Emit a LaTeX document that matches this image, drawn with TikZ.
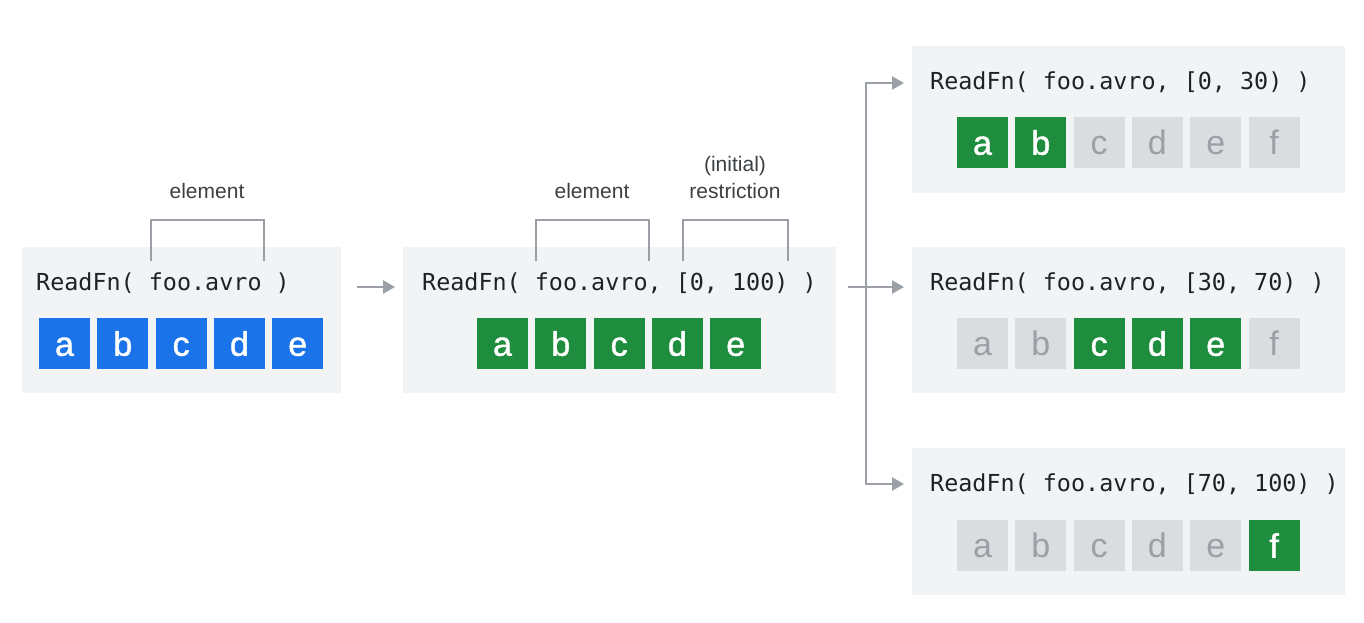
\documentclass[tikz,border=0pt]{standalone}
\usepackage{fontspec}
\setmainfont{Liberation Sans}
\setmonofont{DejaVu Sans Mono}
\newfontfamily\sqboldfont[FakeBold=1.2]{Liberation Sans}
\usetikzlibrary{arrows.meta}
\definecolor{boxbg}{HTML}{F1F3F4}
\definecolor{gblue}{HTML}{1A73E8}
\definecolor{ggreen}{HTML}{1E8E3E}
\definecolor{glight}{HTML}{DADCE0}
\definecolor{gmid}{HTML}{9AA0A6}
\definecolor{gtext}{HTML}{202124}
\definecolor{glabel}{HTML}{3C4043}
\tikzset{
  panel/.style={fill=boxbg, draw=none, inner sep=0pt, anchor=north west},
  sq/.style={minimum width=51pt, minimum height=51pt, inner sep=0pt,
    font=\fontsize{34}{40}\selectfont, text height=24.5pt, text depth=0pt},
  sqblue/.style={sq, fill=gblue, text=white, font=\sqboldfont\fontsize{34}{40}\selectfont},
  sqgreen/.style={sq, fill=ggreen, text=white, font=\sqboldfont\fontsize{34}{40}\selectfont},
  sqgray/.style={sq, fill=glight, text=gmid},
  code/.style={font=\ttfamily\fontsize{23.4}{28}\selectfont, text=gtext, inner sep=0pt, anchor=base west},
  lbl/.style={font=\fontsize{21}{27}\selectfont, text=glabel, inner sep=0pt, align=center},
  brk/.style={draw=gmid, line width=2pt},
  arr/.style={draw=gmid, line width=2.4pt, -{Triangle[length=12pt,width=13pt]}},
}
\begin{document}
\begin{tikzpicture}[x=1pt,y=-1pt]
\useasboundingbox (0,0) rectangle (1364,622);
% panels
\node[panel, minimum width=319pt, minimum height=146pt] (p1) at (22,247) {};
\node[panel, minimum width=433pt, minimum height=146pt] (p2) at (403,247) {};
\node[panel, minimum width=433pt, minimum height=147pt] (p3) at (912,46) {};
\node[panel, minimum width=433pt, minimum height=146pt] (p4) at (912,247) {};
\node[panel, minimum width=433pt, minimum height=147pt] (p5) at (912,448) {};
% code texts
\node[code] (t1) at (36,290) {ReadFn( foo.avro )};
\node[code] (t2) at (422,290) {ReadFn( foo.avro, [0, 100) )};
\node[code] (t3) at (930,89) {ReadFn( foo.avro, [0, 30) )};
\node[code] (t4) at (930,290) {ReadFn( foo.avro, [30, 70) )};
\node[code] (t5) at (930,491) {ReadFn( foo.avro, [70, 100) )};
% left squares
\foreach \l [count=\i from 0] in {a,b,c,d,e}
  \node[sqblue] (s1\l) at (64.5+58.3*\i,343.5) {\l};
% middle squares
\foreach \l [count=\i from 0] in {a,b,c,d,e}
  \node[sqgreen] (s2\l) at (502.5+58.3*\i,343.5) {\l};
% right top
\foreach \l/\s [count=\i from 0] in {a/sqgreen,b/sqgreen,c/sqgray,d/sqgray,e/sqgray,f/sqgray}
  \node[\s] (s3\l) at (982.5+58.3*\i,142.5) {\l};
% right middle
\foreach \l/\s [count=\i from 0] in {a/sqgray,b/sqgray,c/sqgreen,d/sqgreen,e/sqgreen,f/sqgray}
  \node[\s] (s4\l) at (982.5+58.3*\i,343.5) {\l};
% right bottom
\foreach \l/\s [count=\i from 0] in {a/sqgray,b/sqgray,c/sqgray,d/sqgray,e/sqgray,f/sqgreen}
  \node[\s] (s5\l) at (982.5+58.3*\i,545.5) {\l};
% brackets
\draw[brk] (151,261) -- (151,220) -- (264,220) -- (264,261);
\draw[brk] (536,261) -- (536,220) -- (649,220) -- (649,261);
\draw[brk] (683,261) -- (683,220) -- (788,220) -- (788,261);
% labels
\node[lbl] (l1) at (207,191) {element};
\node[lbl] (l2) at (592,191) {element};
\node[lbl] (l3) at (735,177) {(initial)\\restriction};
% arrows
\coordinate (a1s) at (357,287);
\coordinate (a1e) at (395,287);
\coordinate (a2s) at (848,287);
\coordinate (jm) at (866,287);
\coordinate (e1) at (904,83);
\coordinate (e2) at (904,287);
\coordinate (e3) at (904,484);
\draw[arr] (a1s) -- (a1e);
\draw[arr] (a2s) -- (e2);
\draw[arr] (jm) |- (e1);
\draw[arr] (jm) |- (e3);
\end{tikzpicture}
\end{document}
